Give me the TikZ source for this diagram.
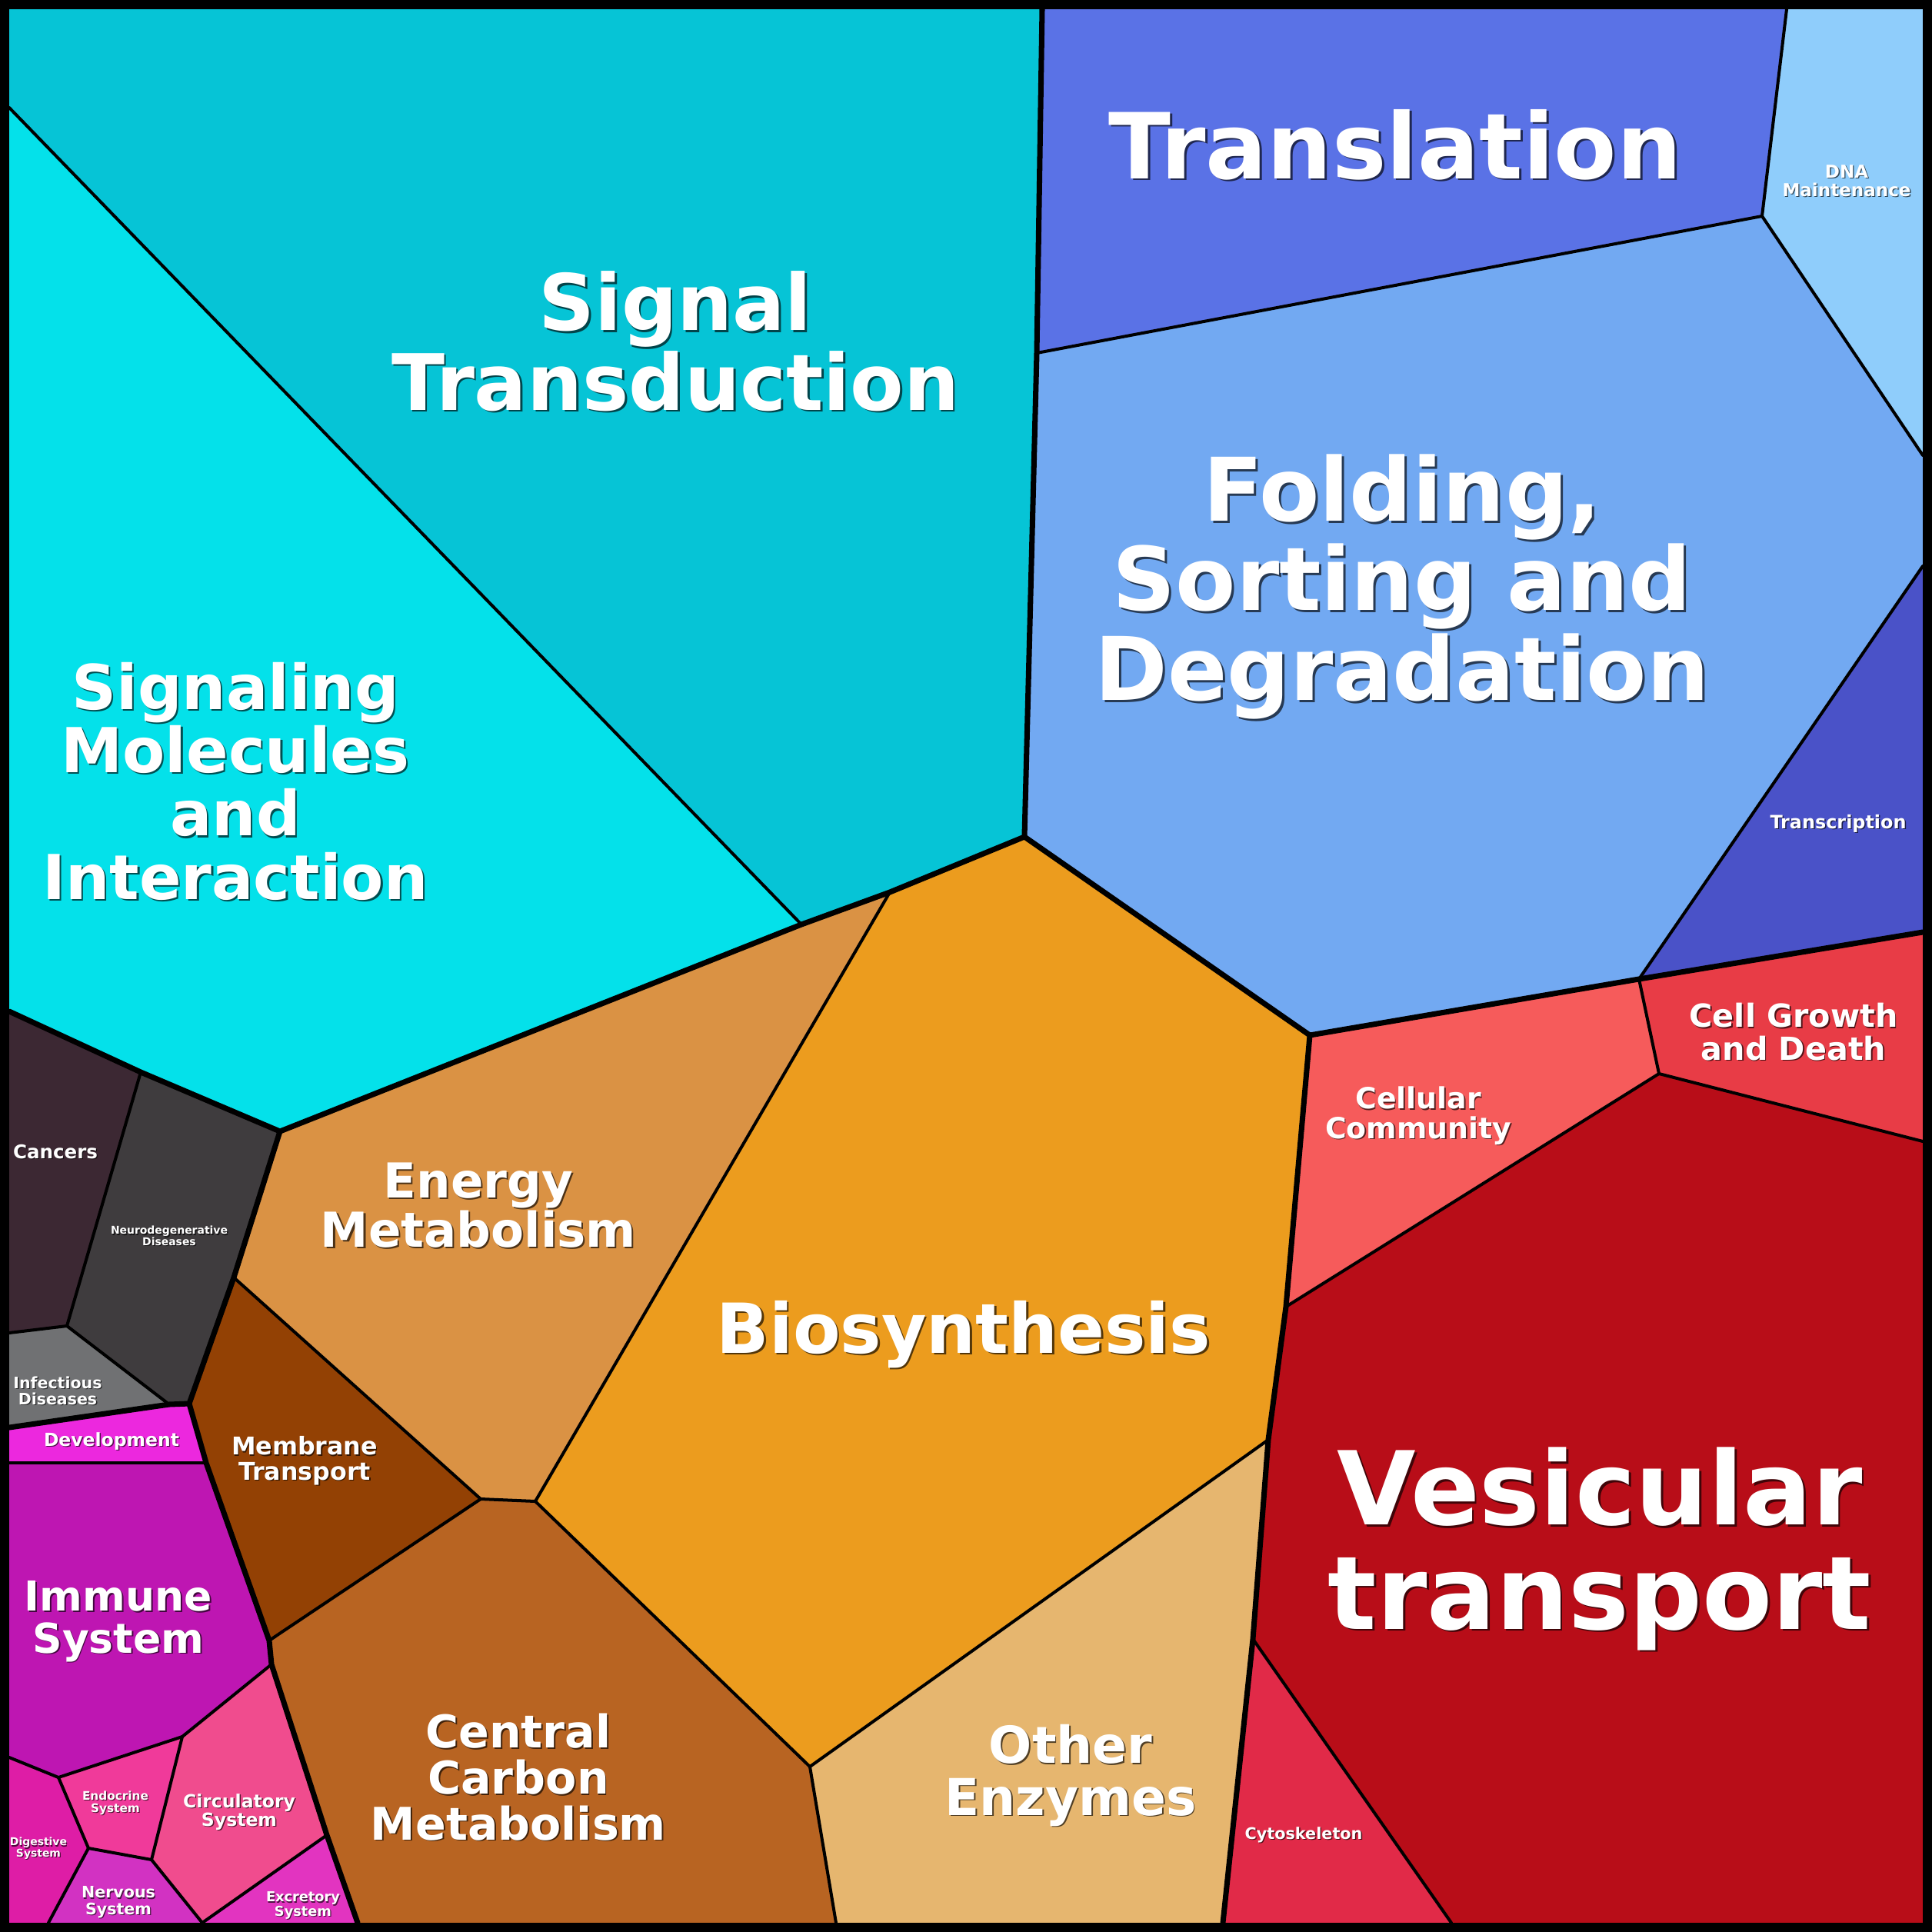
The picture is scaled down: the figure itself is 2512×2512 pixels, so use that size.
\documentclass[tikz,border=0pt]{standalone}
\usepackage{fontspec}
\setmainfont{DejaVu Sans}
\usepackage{graphicx}
\definecolor{cSig}{RGB}{6,196,214}
\definecolor{cSmol}{RGB}{4,225,234}
\definecolor{cTransl}{RGB}{90,114,230}
\definecolor{cDNA}{RGB}{143,205,251}
\definecolor{cFold}{RGB}{114,169,242}
\definecolor{cTranscr}{RGB}{74,82,200}
\definecolor{cCGD}{RGB}{232,60,70}
\definecolor{cCC}{RGB}{246,91,91}
\definecolor{cVes}{RGB}{184,13,24}
\definecolor{cCyto}{RGB}{225,42,72}
\definecolor{cBio}{RGB}{236,156,30}
\definecolor{cEn}{RGB}{218,146,68}
\definecolor{cOE}{RGB}{230,182,111}
\definecolor{cCCM}{RGB}{184,100,34}
\definecolor{cMem}{RGB}{147,65,4}
\definecolor{cCan}{RGB}{60,40,51}
\definecolor{cNeu}{RGB}{63,60,62}
\definecolor{cInf}{RGB}{112,113,115}
\definecolor{cDev}{RGB}{236,40,222}
\definecolor{cImm}{RGB}{190,22,178}
\definecolor{cDig}{RGB}{222,29,166}
\definecolor{cEndo}{RGB}{240,58,154}
\definecolor{cCirc}{RGB}{240,76,142}
\definecolor{cNerv}{RGB}{210,50,194}
\definecolor{cExc}{RGB}{226,52,192}
\newcommand\lblbox[1]{\vbox{\bfseries\fontsize{10}{10.2}\selectfont\lineskiplimit=-\maxdimen\halign{\hfil##\hfil\cr#1\crcr}}}
\newcommand\lbl[5]{%
  \pgfmathsetlengthmacro\lblw{#4*0.01cm}%
  \pgfmathsetmacro\lbloff{1+#4/400}%
  \node[lblsh] (#1-sh) at (#2+\lbloff,#3+\lbloff) {\resizebox{\lblw}{!}{\lblbox{#5}}};
  \node[lbltx] (#1) at (#2,#3) {\resizebox{\lblw}{!}{\lblbox{#5}}};
}
\begin{document}
\begin{tikzpicture}[x=0.01cm,y=-0.01cm,
  thinedge/.style={line width=1.14pt,line join=round,line cap=round},
  thickedge/.style={line width=2pt,line join=round,line cap=round},
  lblsh/.style={anchor=base,inner sep=0pt,outer sep=0pt,text=black,text opacity=0.65},
  lbltx/.style={anchor=base,inner sep=0pt,outer sep=0pt,text=white}]
\useasboundingbox (0,0) rectangle (2512,2512);
% vertices
\coordinate (tl) at (12,12);
\coordinate (tr) at (2500,12);
\coordinate (br) at (2500,2500);
\coordinate (bl) at (12,2500);
\coordinate (a) at (1355,12);
\coordinate (b) at (1348,459);
\coordinate (c) at (1332,1088);
\coordinate (d) at (2323,12);
\coordinate (e) at (2291,281);
\coordinate (f) at (2500,592);
\coordinate (g) at (2500,736);
\coordinate (h) at (2131,1273);
\coordinate (i) at (2500,1212);
\coordinate (j) at (1703,1346);
\coordinate (k) at (2157,1396);
\coordinate (l) at (2500,1484);
\coordinate (m) at (1672,1699);
\coordinate (n) at (1649,1872);
\coordinate (o) at (1629,2131);
\coordinate (p) at (1590,2500);
\coordinate (q) at (1887,2500);
\coordinate (r) at (1053,2297);
\coordinate (s) at (1087,2500);
\coordinate (t) at (696,1952);
\coordinate (u) at (625,1949);
\coordinate (v) at (1157,1160);
\coordinate (w) at (1042,1202);
\coordinate (x1) at (364,1471);
\coordinate (y1) at (304,1661);
\coordinate (z1) at (246,1825);
\coordinate (sl) at (12,140);
\coordinate (cl) at (12,1315);
\coordinate (cn) at (183,1394);
\coordinate (ci) at (87,1724);
\coordinate (il) at (12,1733);
\coordinate (ind) at (220,1826);
\coordinate (dl) at (12,1856);
\coordinate (di) at (12,1902);
\coordinate (dr) at (268,1902);
\coordinate (mc) at (350,2133);
\coordinate (ic) at (353,2164);
\coordinate (ie) at (237,2258);
\coordinate (idl) at (12,2285);
\coordinate (ide) at (76,2311);
\coordinate (den) at (115,2403);
\coordinate (enc) at (197,2418);
\coordinate (ce) at (425,2386);
\coordinate (nce) at (263,2500);
\coordinate (dnb) at (63,2500);
\coordinate (eb) at (465,2500);
% cells
\fill[cSig] (tl)--(a)--(b)--(c)--(v)--(w)--(sl)--cycle;
\fill[cSmol] (sl)--(w)--(x1)--(cn)--(cl)--cycle;
\fill[cTransl] (a)--(d)--(e)--(b)--cycle;
\fill[cDNA] (d)--(tr)--(f)--(e)--cycle;
\fill[cFold] (b)--(e)--(f)--(g)--(h)--(j)--(c)--cycle;
\fill[cTranscr] (g)--(i)--(h)--cycle;
\fill[cCGD] (h)--(i)--(l)--(k)--cycle;
\fill[cCC] (j)--(h)--(k)--(m)--cycle;
\fill[cVes] (m)--(k)--(l)--(br)--(q)--(o)--(n)--cycle;
\fill[cCyto] (o)--(q)--(p)--cycle;
\fill[cOE] (n)--(o)--(p)--(s)--(r)--cycle;
\fill[cBio] (c)--(j)--(m)--(n)--(r)--(t)--(v)--cycle;
\fill[cEn] (w)--(v)--(t)--(u)--(y1)--(x1)--cycle;
\fill[cCCM] (u)--(t)--(r)--(s)--(eb)--(ce)--(ic)--(mc)--cycle;
\fill[cMem] (y1)--(u)--(mc)--(dr)--(z1)--cycle;
\fill[cCan] (cl)--(cn)--(ci)--(il)--cycle;
\fill[cNeu] (cn)--(x1)--(y1)--(z1)--(ind)--(ci)--cycle;
\fill[cInf] (il)--(ci)--(ind)--(dl)--cycle;
\fill[cDev] (dl)--(ind)--(z1)--(dr)--(di)--cycle;
\fill[cImm] (di)--(dr)--(mc)--(ic)--(ie)--(ide)--(idl)--cycle;
\fill[cDig] (idl)--(ide)--(den)--(dnb)--(bl)--cycle;
\fill[cEndo] (ide)--(ie)--(enc)--(den)--cycle;
\fill[cCirc] (ie)--(ic)--(ce)--(nce)--(enc)--cycle;
\fill[cNerv] (den)--(enc)--(nce)--(dnb)--cycle;
\fill[cExc] (nce)--(ce)--(eb)--cycle;
% thin edges
\draw[thinedge] (sl)--(w);
\draw[thinedge] (b)--(e);
\draw[thinedge] (d)--(e)--(f);
\draw[thinedge] (g)--(h);
\draw[thinedge] (h)--(k)--(l);
\draw[thinedge] (k)--(m);
\draw[thinedge] (o)--(q);
\draw[thinedge] (n)--(r)--(s);
\draw[thinedge] (r)--(t)--(v);
\draw[thinedge] (t)--(u)--(y1);
\draw[thinedge] (u)--(mc);
\draw[thinedge] (cn)--(ci)--(il);
\draw[thinedge] (ci)--(ind);
\draw[thinedge] (di)--(dr);
\draw[thinedge] (ic)--(ie)--(ide)--(idl);
\draw[thinedge] (ide)--(den)--(enc)--(ie);
\draw[thinedge] (enc)--(nce)--(ce);
\draw[thinedge] (den)--(dnb);
% thick edges
\draw[thickedge] (a)--(b)--(c)--(v)--(w)--(x1)--(cn)--(cl);
\draw[thickedge] (c)--(j)--(h)--(i);
\draw[thickedge] (j)--(m)--(n)--(o)--(p);
\draw[thickedge] (x1)--(y1)--(z1)--(dr)--(mc)--(ic)--(ce)--(eb);
\draw[thickedge] (dl)--(ind)--(z1);
% frame
\draw[line width=3.414pt] (6,6) rectangle (2506,2506);
% labels
\lbl{lSig}{878}{533}{738}{Signal\cr Transduction}
\lbl{lSmol}{306}{1169}{501}{Signaling\cr Molecules\cr and\cr Interaction}
\lbl{lFold}{1823}{910}{799}{Folding,\cr Sorting and\cr Degradation}
\lbl{lTransl}{1814}{232}{745}{Translation}
\lbl{lDNA}{2401}{255}{167}{DNA\cr Maintenance}
\lbl{lTranscr}{2390}{1077}{177}{Transcription}
\lbl{lCGD}{2332}{1378}{271}{Cell Growth\cr and Death}
\lbl{lCC}{1844}{1480}{242}{Cellular\cr Community}
\lbl{lVes}{2080}{2118}{706}{Vesicular\cr transport}
\lbl{lBio}{1253}{1759}{642}{Biosynthesis}
\lbl{lEn}{622}{1621}{410}{Energy\cr Metabolism}
\lbl{lMem}{396}{1924}{190}{Membrane\cr Transport}
\lbl{lCCM}{674}{2392}{384}{Central\cr Carbon\cr Metabolism}
\lbl{lOE}{1392}{2360}{327}{Other\cr Enzymes}
\lbl{lCyto}{1695}{2391}{153}{Cytoskeleton}
\lbl{lCan}{72}{1506}{110}{Cancers}
\lbl{lNeu}{220}{1619}{152}{Neurodegenerative\cr Diseases}
\lbl{lInf}{75}{1826}{115}{Infectious\cr Diseases}
\lbl{lDev}{145}{1880}{176}{Development}
\lbl{lImm}{154}{2149}{244}{Immune\cr System}
\lbl{lEndo}{150}{2356}{86}{Endocrine\cr System}
\lbl{lCirc}{311}{2374}{146}{Circulatory\cr System}
\lbl{lDig}{50}{2414}{74}{Digestive\cr System}
\lbl{lNerv}{154}{2489}{96}{Nervous\cr System}
\lbl{lExc}{394}{2491}{96}{Excretory\cr System}
\end{tikzpicture}
\end{document}
